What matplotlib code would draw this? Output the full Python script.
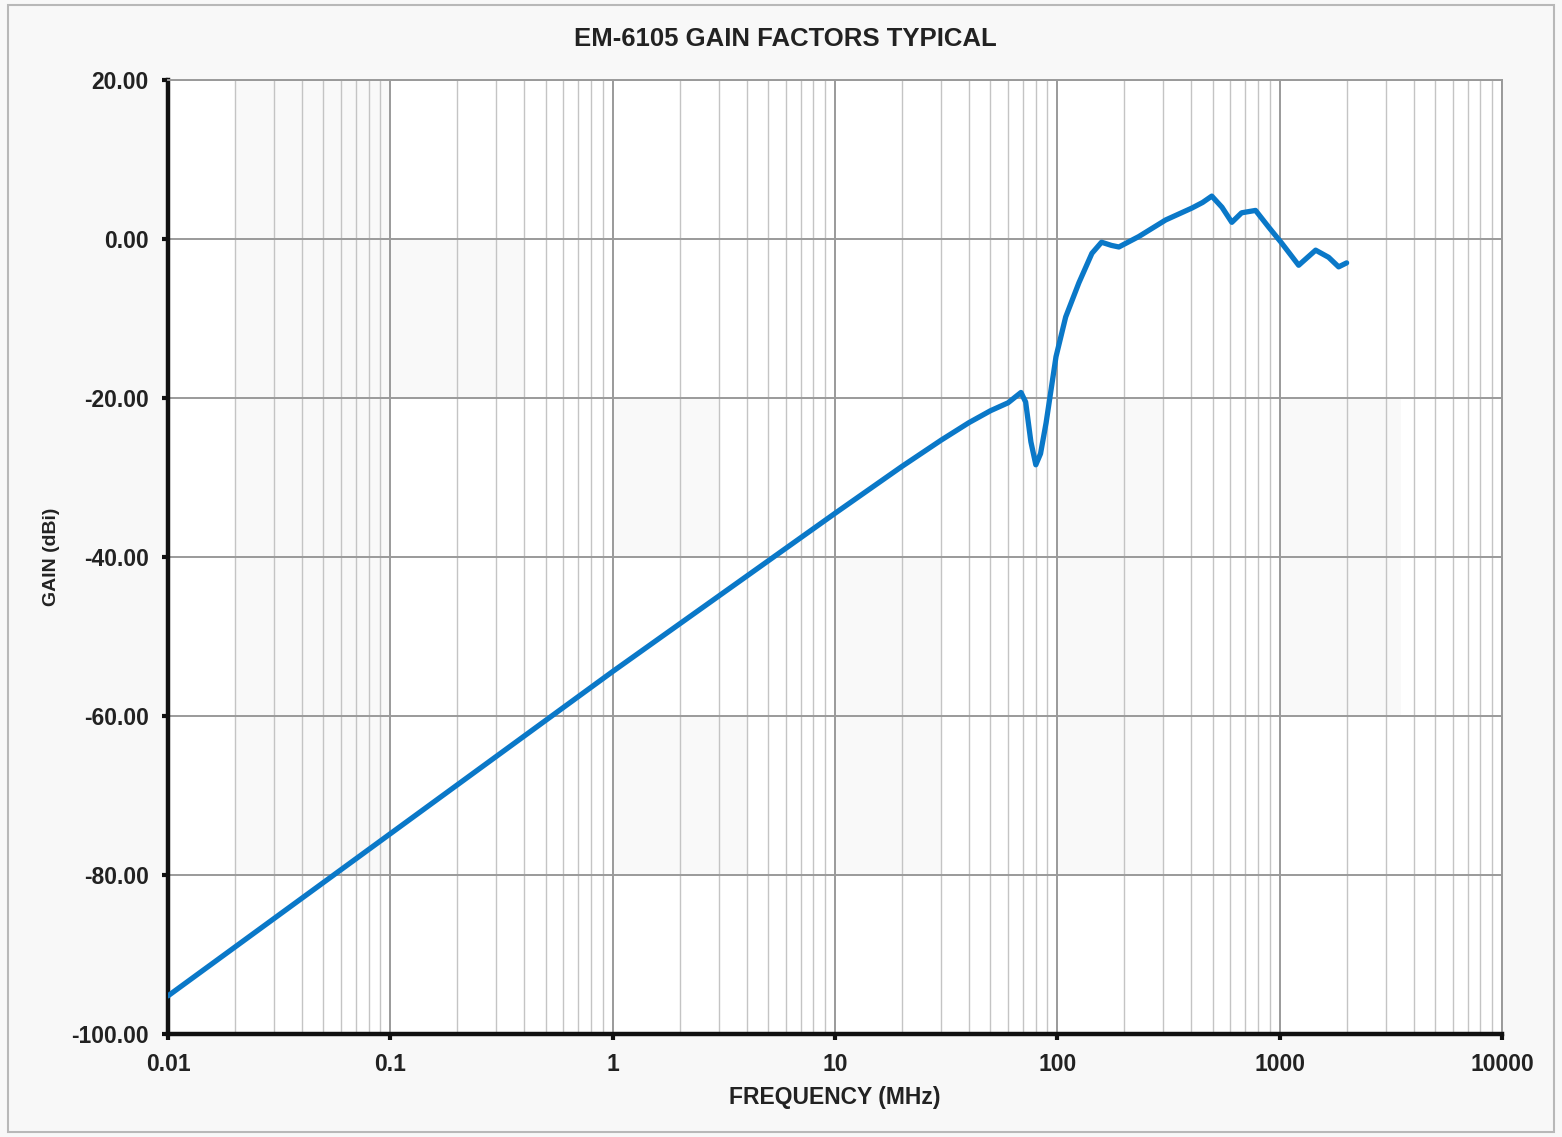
import numpy as np
import matplotlib.pyplot as plt
from matplotlib.ticker import LogLocator, FixedLocator, NullFormatter
from matplotlib.patches import Rectangle

plt.rcParams['font.family'] = ['Liberation Sans', 'DejaVu Sans']

# gain curve (MHz, dBi)
freq = [0.01, 0.1, 1, 10, 20, 30, 40, 50, 60, 68.6, 72, 76, 80, 84,
        89, 98.6, 109, 125, 143, 158, 175, 189, 232, 307, 403, 450, 495, 550,
        609, 674, 779, 892, 1020, 1217, 1451, 1660, 1841, 2000]
gain = [-95.2, -74.8, -54.4, -34.5, -28.6, -25.3, -23.1, -21.6, -20.6,
        -19.3, -20.5, -25.5, -28.4, -27.0, -23.1, -14.8, -9.8, -5.5, -1.8,
        -0.4, -0.8, -1.0, 0.3, 2.4, 3.9, 4.6, 5.4, 4.0, 2.1, 3.3, 3.6, 1.5,
        -0.5, -3.3, -1.4, -2.3, -3.5, -3.0]

x_ticks = [0.01, 0.1, 1, 10, 100, 1000, 10000]
x_labels = ['0.01', '0.1', '1', '10', '100', '1000', '10000']
y_ticks = [-100, -80, -60, -40, -20, 0, 20]

# faint shaded cells seen in the background of the reference
shade_x = [(0.02, 0.1), (0.1, 0.4), (1, 3), (1, 4), (10, 30), (100, 300), (1000, 3500)]
shade_y = [(-80, 20), (-20, 0), (-40, -20), (-80, -60), (-80, -40), (-80, -20), (-60, -20)]

fig = plt.figure(figsize=(15.62, 11.37), dpi=100)
fig.patch.set_facecolor('#f8f8f8')
fig.add_artist(Rectangle((0.005, 0.004), 0.99, 0.992, transform=fig.transFigure,
                         fill=False, edgecolor='#b8b8b8', linewidth=1.5))

ax = fig.add_axes([0.1076, 0.0906, 0.8540, 0.8390])
ax.set_facecolor('white')
ax.set_xscale('log')
ax.set_xlim(0.01, 10000)
ax.set_ylim(-100, 20)

for (x0, x1), (y0, y1) in zip(shade_x, shade_y):
    ax.add_patch(Rectangle((x0, y0), x1 - x0, y1 - y0, facecolor='#f9f9f9',
                           edgecolor='none', zorder=0))

ax.xaxis.set_major_locator(FixedLocator(x_ticks))
ax.set_xticklabels(x_labels)
ax.xaxis.set_minor_locator(LogLocator(base=10, subs=np.arange(2, 10), numticks=20))
ax.xaxis.set_minor_formatter(NullFormatter())
ax.set_yticks(y_ticks)
ax.set_yticklabels(['%.2f' % v for v in y_ticks])

ax.grid(which='major', axis='both', color='#9a9a9a', linewidth=1.4, zorder=1)
ax.grid(which='minor', axis='x', color='#c4c4c4', linewidth=1.0, zorder=1)
ax.set_axisbelow(True)

ax.plot(freq, gain, color='#0a78c8', linewidth=3.8, solid_capstyle='round',
        solid_joinstyle='round', zorder=3)

for s in ['top', 'right']:
    ax.spines[s].set_color('#9a9a9a')
    ax.spines[s].set_linewidth(1.4)
for s in ['left', 'bottom']:
    ax.spines[s].set_color('#111111')
    ax.spines[s].set_linewidth(3.2)

ax.tick_params(which='major', direction='out', length=4, width=3, color='#111111',
               labelsize=16.5)
ax.tick_params(axis='x', pad=10)
ax.tick_params(axis='y', pad=10)
ax.tick_params(which='minor', length=0)
for lab in ax.get_xticklabels() + ax.get_yticklabels():
    lab.set_fontweight('bold')
    lab.set_color('#222222')

ax.set_xlabel('FREQUENCY (MHz)', fontsize=16.5, fontweight='bold', color='#222222',
              labelpad=7)
ax.set_ylabel('GAIN (dBi)', fontsize=14, fontweight='bold', color='#222222',
              labelpad=8)
fig.text(0.5025, 0.966, 'EM-6105 GAIN FACTORS TYPICAL', fontsize=18.5,
         fontweight='bold', color='#222222', ha='center', va='center')

fig.savefig('out.png', dpi=100, facecolor=fig.get_facecolor())
